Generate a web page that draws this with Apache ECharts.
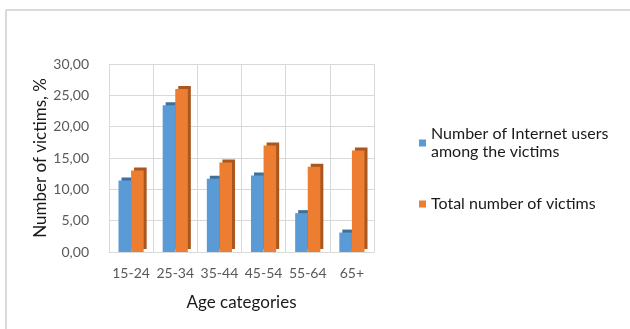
<!DOCTYPE html>
<html>
<head>
<meta charset="utf-8">
<script src="https://cdn.jsdelivr.net/npm/echarts@6/dist/echarts.min.js"></script>
<style>
  html, body { margin: 0; padding: 0; background: #fff; }
  #chart { width: 630px; height: 329px; }
</style>
</head>
<body>
<div id="chart"></div>
<script>
// age groups on the x axis
const categories = ['15-24', '25-34', '35-44', '45-54', '55-64', '65+'];
// share of victims, %
const internetUsers = [11.4, 23.4, 11.7, 12.2, 6.2, 3.1];
const totalVictims = [13.0, 26.0, 14.3, 17.0, 13.6, 16.2];
const yTicks = [0, 5, 10, 15, 20, 25, 30];

const font = 'Lato, "Open Sans", sans-serif';

const chart = echarts.init(document.getElementById('chart'));

const options = {
  backgroundColor: '#fff',
  animation: false,
  textStyle: { fontFamily: font },
  grid: {
    left: 109,
    right: 256,
    top: 64,
    bottom: 77,
  },
  legend: {
    orient: 'vertical',
    left: 414,
    top: 120,
    itemWidth: 7,
    itemHeight: 7,
    itemGap: 34,
    icon: 'rect',
    textStyle: {
      fontFamily: font,
      fontSize: 16,
      color: '#1a1a1a',
      lineHeight: 18,
    },
    data: ['Number of Internet users\namong the victims', 'Total number of victims'],
  },
  xAxis: {
    type: 'category',
    data: categories,
    name: 'Age categories',
    nameLocation: 'middle',
    nameGap: 42,
    nameTextStyle: { fontSize: 17, color: '#1a1a1a', fontFamily: font },
    axisLine: { show: true, lineStyle: { color: '#d9d9d9' } },
    axisTick: { show: false },
    axisLabel: { interval: 0, color: '#595959', fontSize: 14, margin: 14, fontFamily: font },
    splitLine: { show: true, interval: 0, lineStyle: { color: '#d9d9d9' } },
  },
  yAxis: {
    type: 'value',
    min: yTicks[0],
    max: yTicks[yTicks.length - 1],
    interval: 5,
    name: 'Number of victims, %',
    nameLocation: 'middle',
    nameGap: 60,
    nameTextStyle: { fontSize: 17, color: '#1a1a1a', fontFamily: font },
    axisLine: { show: true, lineStyle: { color: '#d9d9d9' } },
    axisTick: { show: false },
    axisLabel: {
      color: '#595959',
      fontSize: 14,
      margin: 20,
      fontFamily: font,
      formatter: (v) => v.toFixed(2).replace('.', ','),
    },
    splitLine: { lineStyle: { color: '#d9d9d9' } },
  },
  series: [
    {
      name: 'Number of Internet users\namong the victims',
      type: 'bar',
      data: internetUsers,
      barGap: '0%',
      barCategoryGap: '43%',
      itemStyle: {
        color: '#5b9bd5',
        shadowColor: '#3f6f9c',
        shadowBlur: 0,
        shadowOffsetX: 3,
        shadowOffsetY: -3,
      },
    },
    {
      name: 'Total number of victims',
      type: 'bar',
      data: totalVictims,
      itemStyle: {
        color: '#ed7d31',
        shadowColor: '#a9561f',
        shadowBlur: 0,
        shadowOffsetX: 3,
        shadowOffsetY: -3,
      },
    },
  ],
  graphic: [
    { type: 'line', shape: { x1: 6, y1: 10, x2: 630, y2: 10 }, style: { stroke: '#d9d9d9', lineWidth: 2 } },
    { type: 'line', shape: { x1: 6, y1: 10, x2: 6, y2: 329 }, style: { stroke: '#d9d9d9', lineWidth: 2 } },
  ],
};

chart.setOption(options);
</script>
</body>
</html>
